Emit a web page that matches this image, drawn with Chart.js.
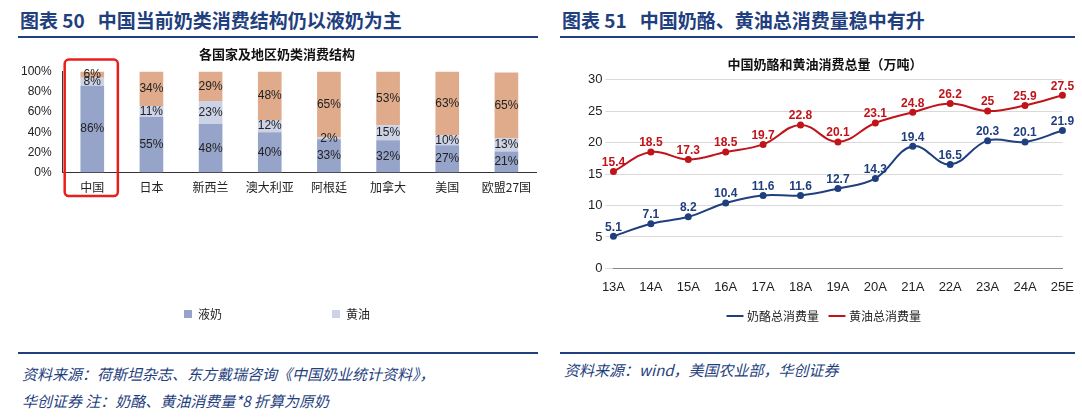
<!DOCTYPE html>
<html><head><meta charset="utf-8">
<script src="https://cdn.jsdelivr.net/npm/chart.js@4"></script>
<style>
body{margin:0;width:1082px;height:418px;background:#fff;font-family:"Noto Sans CJK SC",sans-serif;position:relative;overflow:hidden}
.t{position:absolute;top:6px;font-size:19px;font-weight:bold;color:#1f3f7e;white-space:pre}
.rule{position:absolute;height:2px;background:#1f3f7e}
.src{position:absolute;font-size:15px;font-style:italic;color:#1f3f7e;line-height:27px}
canvas{position:absolute}
</style></head><body>
<div class="t" style="left:20px">图表 50   中国当前奶类消费结构仍以液奶为主</div>
<div class="t" style="left:562px">图表 51   中国奶酪、黄油总消费量稳中有升</div>
<div class="rule" style="left:18px;width:520px;top:36px"></div>
<div class="rule" style="left:560px;width:515px;top:36px"></div>
<div class="rule" style="left:18px;width:520px;top:352px;height:1.5px"></div>
<div class="rule" style="left:560px;width:515px;top:352px;height:1.5px"></div>
<div class="src" style="left:22px;top:360px">资料来源：荷斯坦杂志、东方戴瑞咨询《中国奶业统计资料》，<br>华创证券 注：奶酪、黄油消费量*8 折算为原奶</div>
<div class="src" style="left:564px;top:356px">资料来源：wind，美国农业部，华创证券</div>
<div style="position:absolute;left:18px;top:44px;width:522px;height:308px"><canvas id="c1"></canvas></div>
<div style="position:absolute;left:555px;top:42px;width:522px;height:290px"><canvas id="c2"></canvas></div>
<script>
const regions=["中国","日本","新西兰","澳大利亚","阿根廷","加拿大","美国","欧盟27国"];
const liquidMilk=[86,55,48,40,33,32,27,21];
const butterShare=[8,11,23,12,2,15,10,13];
const cheeseShare=[6,34,29,48,65,53,63,65];
const years=["13A","14A","15A","16A","17A","18A","19A","20A","21A","22A","23A","24A","25E"];
const cheeseTotal=[5.1,7.1,8.2,10.4,11.6,11.6,12.7,14.3,19.4,16.5,20.3,20.1,21.9];
const butterTotal=[15.4,18.5,17.3,18.5,19.7,22.8,20.1,23.1,24.8,26.2,25,25.9,27.5];
const F="'Noto Sans CJK SC',sans-serif";
Chart.defaults.font.family=F;
Chart.defaults.animation=false;
const barLabels={id:'bl',afterDatasetsDraw(c){const ctx=c.ctx;ctx.save();ctx.font="12px Liberation Sans";ctx.fillStyle="#222";ctx.textAlign="center";ctx.textBaseline="middle";
 c.data.datasets.forEach((d,i)=>{c.getDatasetMeta(i).data.forEach((b,j)=>{const y=(b.y+b.base)/2;ctx.fillText(d.data[j]+"%",b.x,y);});});
 const m=c.getDatasetMeta(0).data[0],xs=c.scales.x,ys=c.scales.y;const w=xs.getPixelForValue(1)-xs.getPixelForValue(0);
 ctx.strokeStyle="#e8201c";ctx.lineWidth=2.5;ctx.beginPath();ctx.roundRect(m.x-w/2+2,ys.top-12,w-6,xs.bottom-ys.top+10,4);ctx.stroke();ctx.restore();}};
new Chart(document.getElementById('c1'),{type:'bar',data:{labels:regions,datasets:[
{label:'液奶',data:liquidMilk,backgroundColor:'#97a4c9'},
{label:'黄油',data:butterShare,backgroundColor:'#ccd3e6'},
{label:'奶酪',data:cheeseShare,backgroundColor:'#dfab8b'}]},
options:{responsive:true,maintainAspectRatio:false,layout:{padding:{right:4}},
plugins:{title:{display:true,text:'各国家及地区奶类消费结构',font:{size:13,weight:'bold'},color:'#111',padding:{top:2,bottom:10}},
legend:{position:'bottom',labels:{boxWidth:8,boxHeight:8,font:{size:12},color:'#222',padding:110}},tooltip:{enabled:false}},
datasets:{bar:{barPercentage:0.4,categoryPercentage:1}},
scales:{x:{stacked:true,grid:{display:false,drawTicks:true,tickLength:5,color:'#333'},border:{color:'#333'},ticks:{color:'#222',font:{size:12}}},
y:{stacked:true,min:0,max:100,ticks:{stepSize:10,callback:v=>v+'%',color:'#222',font:{size:12,family:'Liberation Sans'}},grid:{display:false},border:{color:'#333'}}}},
plugins:[barLabels]});
const lineLabels={id:'ll',afterDatasetsDraw(c){const ctx=c.ctx;ctx.save();ctx.font="bold 12px Liberation Sans";ctx.textAlign="center";
 c.data.datasets.forEach((d,i)=>{ctx.fillStyle=d.borderColor;c.getDatasetMeta(i).data.forEach((p,j)=>{ctx.fillText(d.data[j],p.x,p.y-9);});});ctx.restore();}};
new Chart(document.getElementById('c2'),{type:'line',data:{labels:years,datasets:[
{label:'奶酪总消费量',data:cheeseTotal,borderColor:'#1f3f7e',backgroundColor:'#1f3f7e',pointRadius:2.5,borderWidth:2,tension:0.4},
{label:'黄油总消费量',data:butterTotal,borderColor:'#c0141b',backgroundColor:'#c0141b',pointRadius:2.5,borderWidth:2,tension:0.4}]},
options:{responsive:true,maintainAspectRatio:false,layout:{padding:{left:30,right:12,top:0}},
plugins:{title:{display:true,text:'中国奶酪和黄油消费总量（万吨）',font:{size:13,weight:'bold'},color:'#111',padding:{top:14,bottom:8}},
legend:{position:'bottom',labels:{usePointStyle:true,pointStyle:'line',font:{size:12},color:'#222',padding:12}},tooltip:{enabled:false}},
scales:{x:{grid:{display:false},border:{color:'#888'},ticks:{color:'#222',font:{size:13,family:'Liberation Sans'}}},
y:{min:0,max:30,ticks:{stepSize:5,color:'#222',font:{size:13,family:'Liberation Sans'}},grid:{color:'#d9d9d9'},border:{display:false}}}},
plugins:[lineLabels]});
</script></body></html>
